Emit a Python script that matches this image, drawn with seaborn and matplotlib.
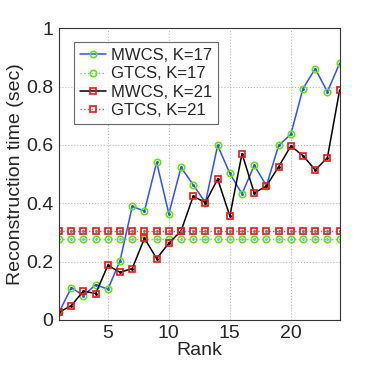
import numpy as np
import pandas as pd
import seaborn as sns
import matplotlib
matplotlib.use("Agg")
import matplotlib.pyplot as plt

# values
rank = list(range(1, 25))
mwcs_k17 = [0.026, 0.111, 0.083, 0.121, 0.105, 0.203, 0.389, 0.373, 0.540, 0.364,
            0.523, 0.463, 0.402, 0.598, 0.502, 0.432, 0.530, 0.460, 0.598, 0.636,
            0.793, 0.861, 0.782, 0.879]
gtcs_k17 = [0.278] * 24
mwcs_k21 = [0.026, 0.049, 0.099, 0.090, 0.187, 0.163, 0.176, 0.280, 0.210, 0.263,
            0.305, 0.424, 0.402, 0.483, 0.356, 0.570, 0.435, 0.459, 0.525, 0.596,
            0.563, 0.514, 0.556, 0.787]
gtcs_k21 = [0.304] * 24

df = pd.DataFrame({
    'Rank': rank,
    'MWCS, K=17': mwcs_k17,
    'GTCS, K=17': gtcs_k17,
    'MWCS, K=21': mwcs_k21,
    'GTCS, K=21': gtcs_k21,
})

sns.set_style('white')
plt.rcParams['font.family'] = ['Liberation Sans', 'DejaVu Sans']

green = '#66e60f'
red = '#f01414'
blue = '#3050ff'

styles = {
    'MWCS, K=17': dict(color=blue, linestyle='-', linewidth=1.1, marker='o', mec=green, dot=blue),
    'GTCS, K=17': dict(color='#8fa8ff', linestyle=':', linewidth=1.0, marker='o', mec=green, dot='#8fa8ff'),
    'MWCS, K=21': dict(color='black', linestyle='-', linewidth=1.1, marker='s', mec=red, dot='black'),
    'GTCS, K=21': dict(color='#777777', linestyle=':', linewidth=1.0, marker='s', mec=red, dot='#777777'),
}

fig = plt.figure(figsize=(3.74, 3.66), dpi=100)
ax = fig.add_axes([0.158, 0.126, 0.750, 0.797])

for name, st in styles.items():
    sns.lineplot(data=df, x='Rank', y=name, ax=ax, label=name,
                 color=st['color'], linestyle=st['linestyle'], linewidth=st['linewidth'],
                 marker=st['marker'], markersize=4.6, markerfacecolor='none',
                 markeredgecolor=st['mec'], markeredgewidth=1.2)
    # small centre dot, as in the original
    ax.plot(df['Rank'], df[name], linestyle='none', marker='.', markersize=2.2,
            color=st['dot'])

ax.set_xlim(1, 24)
ax.set_ylim(0, 1)
ax.set_xticks([5, 10, 15, 20])
ax.set_yticks([0, 0.2, 0.4, 0.6, 0.8, 1])
ax.set_yticklabels(['0', '0.2', '0.4', '0.6', '0.8', '1'])
ax.grid(True, linestyle=':', color='#bbbbbb', linewidth=0.8)
ax.tick_params(direction='in', labelsize=14, length=4, pad=4)
ax.set_xlabel('Rank', fontsize=14, labelpad=0)
ax.set_ylabel('Reconstruction time (sec)', fontsize=14, labelpad=2)
for s in ax.spines.values():
    s.set_color('#333333')
    s.set_linewidth(0.8)

leg = ax.legend(loc='upper left', bbox_to_anchor=(0.052, 0.952), fontsize=12,
                numpoints=1, frameon=True, fancybox=False, borderpad=0.35,
                labelspacing=0.2, handlelength=1.6, handletextpad=0.3,
                borderaxespad=0)
leg.get_frame().set_edgecolor('#444444')
leg.get_frame().set_linewidth(0.8)

fig.savefig('out.png', dpi=100)
